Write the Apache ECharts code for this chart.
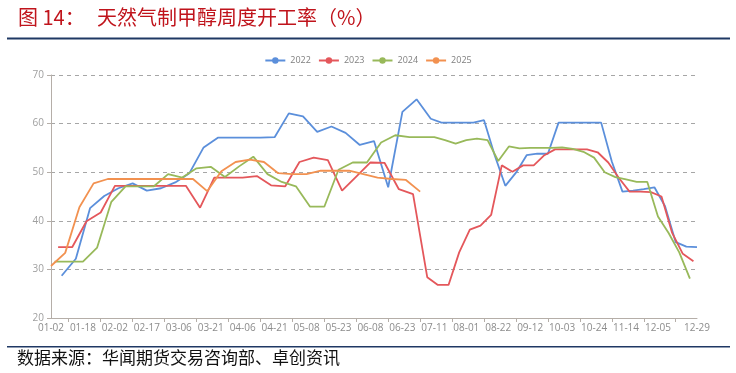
<!DOCTYPE html>
<html>
<head>
<meta charset="utf-8">
<script src="https://cdn.jsdelivr.net/npm/echarts@6/dist/echarts.min.js"></script>
<style>
html,body{margin:0;padding:0;background:#fff;}
#chart{width:736px;height:373px;}
</style>
</head>
<body>
<div id="chart"></div>
<script>
// weekly dates (MM-DD) of each year
var dates2022 = ['01-06','01-13','01-20','01-27','02-03','02-10','02-17','02-24','03-03','03-10','03-17','03-24','03-31','04-07','04-14','04-21','04-28','05-05','05-12','05-19','05-26','06-02','06-09','06-16','06-23','06-30','07-07','07-14','07-21','07-28','08-04','08-11','08-18','08-25','09-01','09-08','09-15','09-22','09-29','10-06','10-13','10-20','10-27','11-03','11-10','11-17','11-24','12-01','12-08','12-15','12-22','12-29'];
var dates2023 = ['01-05','01-12','01-19','01-26','02-02','02-09','02-16','02-23','03-02','03-09','03-16','03-23','03-30','04-06','04-13','04-20','04-27','05-04','05-11','05-18','05-25','06-01','06-08','06-15','06-22','06-29','07-06','07-13','07-20','07-27','08-03','08-10','08-17','08-24','08-31','09-07','09-14','09-21','09-28','10-05','10-12','10-19','10-26','11-02','11-09','11-16','11-23','11-30','12-07','12-14','12-21','12-28'];
var dates2024 = ['01-04','01-11','01-18','01-25','02-01','02-08','02-15','02-22','02-29','03-07','03-14','03-21','03-28','04-04','04-11','04-18','04-25','05-02','05-09','05-16','05-23','05-30','06-06','06-13','06-20','06-27','07-04','07-11','07-18','07-25','08-01','08-08','08-15','08-22','08-29','09-05','09-12','09-19','09-26','10-03','10-10','10-17','10-24','10-31','11-07','11-14','11-21','11-28','12-05','12-12','12-19','12-26'];
var dates2025 = ['01-02','01-09','01-16','01-23','01-30','02-06','02-13','02-20','02-27','03-06','03-13','03-20','03-27','04-03','04-10','04-17','04-24','05-01','05-08','05-15','05-22','05-29','06-05','06-12','06-19','06-26','07-03'];

// operating rate values (%)
var values2022 = [28.7,32.2,42.6,45.1,46.7,47.7,46.2,46.7,47.9,49.8,55.1,57.1,57.1,57.1,57.1,57.2,62.1,61.5,58.3,59.4,58.1,55.6,56.4,46.9,62.4,65.0,61.0,60.2,60.2,60.2,60.2,60.7,53.5,47.2,49.9,53.5,53.8,53.8,60.2,60.2,60.2,60.2,60.2,52.2,46.0,46.2,46.5,46.9,43.0,35.6,34.7,34.6];
var values2023 = [34.6,34.6,39.9,41.7,47.2,47.2,47.2,47.2,47.2,47.2,42.7,48.9,48.9,48.9,49.2,47.3,47.1,52.1,53.0,52.5,46.2,49.1,52.0,51.9,46.5,45.5,28.4,26.8,26.8,33.5,38.2,39.0,41.2,51.4,50.1,51.4,51.4,53.5,54.7,54.7,54.7,54.7,54.1,52.0,48.8,46.0,46.0,45.9,45.0,37.5,33.2,31.7];
var values2024 = [31.6,31.6,31.6,34.5,43.9,47.1,47.1,47.1,49.6,48.9,50.8,51.1,49.0,51.2,53.2,49.6,48.0,47.1,42.9,42.9,50.5,52.0,52.0,56.1,57.6,57.2,57.2,57.2,56.6,55.9,56.6,56.9,56.6,52.3,55.3,54.9,55.0,55.0,55.0,55.1,54.8,54.2,53.0,50.0,49.0,48.5,48.0,48.0,40.9,37.5,33.5,28.1];
var values2025 = [30.7,33.4,42.8,47.7,48.6,48.6,48.6,48.6,48.6,48.6,48.6,46.1,50.2,52.1,52.6,52.1,49.8,49.6,49.6,50.3,50.3,50.3,49.6,48.9,48.6,48.4,46.0];

var seriesNames = ['2022','2023','2024','2025'];
var seriesColors = ['#5B8FDB','#E4575B','#98B95A','#F29150'];
var yTicks = [20,30,40,50,60,70];

// category axis = sorted union of all weekly dates
var categories = dates2022.concat(dates2023, dates2024, dates2025)
  .filter(function(d,i,a){return a.indexOf(d)===i;}).sort();
var lastIdx = categories.length - 1;

function pairs(d, v){ return d.map(function(x,i){ return [x, v[i]]; }); }
var allDates = [dates2022, dates2023, dates2024, dates2025];
var allVals = [values2022, values2023, values2024, values2025];

var chart = echarts.init(document.getElementById('chart'), null, {renderer:'canvas'});
var axisFont = 'Open Sans, Noto Sans, sans-serif';
var option = {
  animation: false,
  backgroundColor: '#ffffff',
  grid: {left: 51, right: 39, top: 75, bottom: 55, containLabel: false},
  legend: {
    data: seriesNames,
    top: 51, left: 'center',
    itemWidth: 20, itemHeight: 8, itemGap: 7,
    textStyle: {color: '#7f7f7f', fontSize: 9, fontFamily: axisFont}
  },
  xAxis: {
    type: 'category',
    data: categories,
    boundaryGap: false,
    axisLine: {lineStyle: {color: '#b5aea8', width: 1}},
    axisTick: {show: true, length: 4, lineStyle: {color: '#b5aea8'},
      interval: function(i){ return i % 9 === 5; }},
    axisLabel: {color: '#8c8c8c', fontSize: 10, fontFamily: axisFont, margin: 5,
      interval: function(i){ return (i % 9 === 0 && i <= lastIdx - 11) || i === lastIdx; }},
    splitLine: {show: false}
  },
  yAxis: {
    type: 'value',
    min: yTicks[0], max: yTicks[yTicks.length-1], interval: 10,
    axisLine: {show: true, lineStyle: {color: '#b5aea8', width: 1}},
    axisTick: {show: true, length: 4, lineStyle: {color: '#b5aea8'}},
    axisLabel: {color: '#a0a0a0', fontSize: 10, fontFamily: axisFont, margin: 7},
    splitLine: {show: true, lineStyle: {color: '#a6a6a6', width: 1, type: [4,4]}}
  },
  graphic: [
    {type: 'text', left: 18, top: 7, style: {text: '图 14：', font: '20px "Noto Sans CJK SC"', fill: '#c0141c'}},
    {type: 'text', left: 97, top: 7, style: {text: '天然气制甲醇周度开工率（%）', font: '20px "Noto Sans CJK SC"', fill: '#c0141c'}},
    {type: 'rect', shape: {x: 7, y: 37.5, width: 723, height: 2}, style: {fill: '#1f3864'}},
    {type: 'rect', shape: {x: 7, y: 346, width: 723, height: 1.5}, style: {fill: '#1f3864'}},
    {type: 'text', left: 17, top: 349, style: {text: '数据来源：华闻期货交易咨询部、卓创资讯', font: '17px "Noto Sans CJK SC"', fill: '#111'}}
  ],
  series: seriesNames.map(function(n, k){
    return {
      name: n, type: 'line',
      data: pairs(allDates[k], allVals[k]),
      symbol: 'circle', symbolSize: 7, showSymbol: false,
      connectNulls: true,
      lineStyle: {width: 1.8, color: seriesColors[k]},
      itemStyle: {color: seriesColors[k]},
      z: 2 + k
    };
  })
};
chart.setOption(option);
</script>
</body>
</html>
